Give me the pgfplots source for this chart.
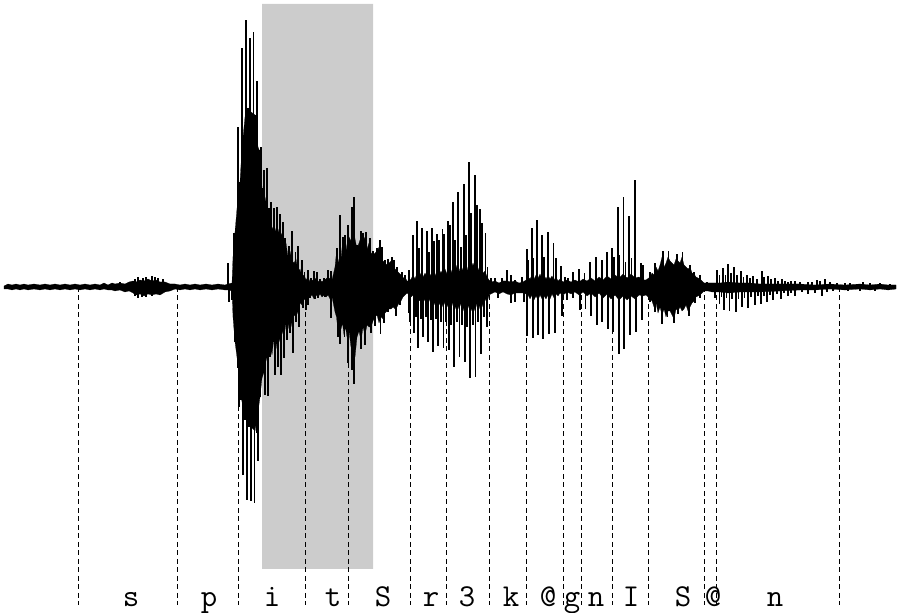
\documentclass[border=0pt]{standalone}
\usepackage{pgfplots}
\usepackage{pgfplotstable}
\pgfplotsset{compat=1.18}

% solid part of the waveform: x in image pixels, amplitude in pixels from the baseline
\pgfplotstableread{
x up down
4 1 -2
8 3 -2
12 2 -3
16 3 -2
20 2 -3
24 3 -2
28 2 -3
34 3 -2
40 2 -3
45 3 -2
50 2 -3
55 3 -2
60 2 -3
65 3 -2
70 2 -3
75 3 -2
80 2 -3
85 3 -2
90 2 -3
95 3 -2
100 2 -3
104 4 -2
108 2 -3
112 4 -3
115 3 -4
120 4 -3
125 3 -5
129 5 -4
133 6 -6
136 5 -8
140 7 -7
144 6 -9
148 8 -7
152 6 -8
156 7 -7
160 5 -8
165 5 -5
170 3 -4
175 3 -2
180 2 -3
185 3 -2
190 2 -3
195 3 -2
200 2 -3
206 3 -2
212 2 -3
218 3 -2
225 2 -3
228 3 -3
232 4 -4
233 30 -30
235 55 -55
238 90 -78
240 105 -100
242 139 -115
245 170 -125
248 179 -130
251 175 -140
255 172 -144
258 140 -125
260 135 -110
262 99 -91
264 80 -85
266 90 -70
268 70 -78
270 72 -60
272 58 -68
274 62 -50
276 55 -62
278 58 -48
280 50 -55
282 54 -44
284 40 -50
286 44 -36
288 30 -42
290 36 -30
292 26 -40
294 24 -28
296 28 -30
298 15 -24
300 18 -16
302 10 -18
304 12 -12
306 7 -14
308 10 -10
310 5 -10
312 7 -8
314 6 -12
316 9 -8
318 5 -10
320 7 -7
322 5 -10
324 7 -8
326 8 -10
328 10 -8
330 8 -12
332 7 -10
335 20 -25
336.5 35 -30
338 24 -44
339.5 30 -38
341 28 -42
342.5 44 -36
344 32 -48
345.5 46 -40
347 36 -50
349 50 -44
351 46 -60
353 70 -50
355 48 -70
357 38 -50
359 44 -44
361 50 -54
363 46 -40
365 50 -48
367 38 -38
369 44 -40
371 34 -40
373 32 -34
375 34 -30
377 36 -28
379 40 -36
381 32 -30
383 26 -32
385 24 -26
387 22 -24
389 24 -22
391 26 -22
393 24 -20
395 18 -22
397 16 -20
399 14 -16
401 12 -14
403 9 -10
405 10 -8
407 6 -6
409 6 -8
411 8 -10
413 12 -8
415 8 -14
417 14 -10
419 10 -14
421 14 -12
423 10 -16
425 14 -12
427 10 -16
429 15 -12
431 11 -17
433 15 -13
435 11 -18
437 16 -13
439 12 -18
441 16 -14
443 12 -20
445 18 -15
447 13 -20
449 20 -15
451 14 -22
453 20 -15
455 15 -22
457 22 -16
459 15 -22
461 22 -16
463 16 -24
465 22 -17
467 16 -24
469 24 -18
471 18 -24
473 24 -18
475 18 -24
477 22 -16
479 16 -22
481 20 -14
483 14 -20
485 16 -12
487 10 -16
489 7 -8
491 5 -7
495 6 -5
499 4 -7
503 6 -5
507 6 -7
511 5 -8
515 6 -6
519 4 -6
523 5 -6
526 7 -7
528 10 -8
530 8 -12
532 12 -8
534 8 -13
536 12 -9
538 9 -13
540 13 -8
542 8 -12
544 12 -9
546 8 -12
548 12 -8
550 8 -12
552 11 -7
554 7 -11
556 10 -7
558 6 -9
560 8 -6
563 5 -8
567 7 -5
571 5 -7
575 7 -5
579 5 -8
583 8 -5
587 6 -9
591 9 -6
595 6 -10
599 10 -6
603 7 -11
607 11 -7
611 8 -12
615 12 -8
619 9 -13
623 13 -9
627 9 -13
631 13 -9
635 9 -12
639 10 -8
643 7 -9
646 7 -8
650 10 -12
652 14 -14
654 12 -20
656 20 -16
658 16 -26
660 22 -20
662 30 -28
664 20 -22
666 24 -30
668 30 -24
670 26 -24
672 24 -28
674 22 -32
676 28 -22
678 26 -24
680 24 -20
682 30 -24
684 22 -22
686 20 -18
688 18 -24
690 20 -20
692 14 -16
694 13 -14
696 10 -10
698 9 -9
700 8 -8
702 6 -6
704 4 -4
708 4 -4
712 4 -5
720 4 -5
728 5 -6
740 4 -5
750 4 -5
760 3 -5
780 3 -4
800 3 -3
815 2 -3
830 3 -2
845 2 -3
860 3 -2
870 2 -3
880 3 -2
888 2 -3
896 2 -2
}\bodytable

% spikes above the baseline
\pgfplotstableread{
x y
120 5
135 8
138 10
143 9
146 10
152 11
155 10
158 9
163 8
228 24
234 54
235.7 59
238 160
239.7 105
242 239
245.7 267
247.7 179
249.7 249
253.3 255
255 172
257 206
259 137
260.7 140
262.3 99
264 117
267 119
269 79
270.7 85
273.7 79
276.7 80
280 73
283 65
285 49
289 41
292 56
295.3 35
298 41
301.7 27
304.3 15
307.7 17
311 9
314 16
316.7 15
320 8
324 9
328 17
330.7 16
336.7 39
340 72
342.7 50
345 52
347.7 62
351.7 80
353.7 90
356.7 42
360.7 56
363 54
365.7 55
370 49
373 36
376.7 39
379.7 47
381.7 40
385 27
388 28
392 30
394 27
397 20
401.7 15
405 12
409 17
412.7 52
417 66
419 39
422 59
427 56
429 35
432 59
434 46
437 53
439 47
442.3 58
444 53
447.7 66
450 62
453 85
455 47
458 95
460.7 40
463.7 103
466 52
469 125
471 74
474.7 112
476.7 82
479.7 78
482 64
485.3 54
487.3 20
491 9
495 9
501.7 9
507 17
511 12
515 7
521.7 10
526.7 38
528 27
531.7 59
533 29
536.7 67
541.7 52
543.7 30
548 55
553.3 44
555.7 29
561 21
565 10
568 9
572.7 15
579 18
584.3 14
590 25
595.7 30
601.7 27
606.7 35
612 39
614 30
617.7 80
619.3 32
623.3 90
625.3 25
629 71
631.3 29
634.7 107
640.7 24
642.7 22
650 15
655 24
662.7 36
668.3 36
676.7 33
682.3 35
690 22
694 15
700 12
706.7 5
716.7 17
719.5 12
723 19
725.5 12
728 23
731 14
734 20
737 12
740.7 16
743.5 10
746.7 12
750 9
753 11
757 8
761.7 16
764 10
768 11
771 8
775 9
778 6
781.7 8
785 6
788 5
791 6
795 6
800 5
808 5
812 5
816.7 7
820 6
825 8
830 5
836.7 4
845 4
850 4
863 5
870 4
880 4
890 3
}\uptable

% spikes below the baseline
\pgfplotstableread{
x y
135 -9
138 -11
142 -10
146 -10
152 -9
229 -15
232 -13
235 -55
237.7 -81
239 -120
241 -113
243 -188
245 -133
247 -213
249 -140
251 -214
254.3 -216
256.3 -146
258 -174
260 -110
263 -83
264.7 -108
268 -109
270 -70
272.7 -55
275 -88
277.7 -80
280.7 -88
283.7 -71
287 -53
289.7 -46
292.7 -66
296 -35
299 -40
302.7 -21
305.7 -23
308 -18
310 -11
315 -12
318 -11
325 -10
330.7 -31
338 -50
339.7 -57
344.3 -50
348 -76
351.7 -83
354 -97
357 -43
361 -62
365 -58
370.7 -46
374.7 -39
380.3 -47
384 -36
388 -25
396 -29
400 -18
409 -26
409.7 -35
414 -46
416 -30
418 -61
421 -32
423 -50
426 -30
428 -55
431 -33
433 -65
436 -32
438 -59
441 -35
443.3 -61
446 -35
448.7 -63
451 -38
454 -80
457 -35
459.3 -70
462 -38
464.7 -75
467 -40
470 -91
473 -38
475.3 -90
478 -35
481 -67
484 -30
486.7 -40
498 -11
511 -16
515 -15
524 -15
527 -49
532.7 -51
537.7 -48
543 -52
548.7 -47
555 -46
561.7 -29
566.7 -13
573 -11
580 -23
585.3 -22
591 -29
597 -38
601.7 -35
607.7 -42
612.7 -45
618.7 -67
624 -62
630 -48
635.7 -45
642 -33
650 -15
655 -25
661.7 -37
667.3 -30
674 -36
677.7 -27
689 -29
695 -16
700 -11
715 -11
719.3 -17
721.5 -10
724 -23
726.5 -11
729.3 -24
732 -12
735.7 -25
738.5 -12
741.7 -20
744.5 -11
747.7 -21
751 -10
755 -18
758 -9
761 -17
764 -9
766.7 -15
770 -8
773 -13
777 -7
780.7 -12
784 -6
788 -9
791 -6
795 -9
802 -5
808 -7
815 -6
821.7 -9
827 -5
833 -4
848 -4
860 -4
875 -4
}\downtable

\begin{document}
\begin{tikzpicture}
\begin{axis}[
    scale only axis,
    width=897bp, height=613bp,
    xmin=0, xmax=897,
    ymin=-326, ymax=287,
    axis lines=none,
    ticks=none,
    no markers
  ]
  % keeps the whole image area in the bounding box
  \addplot[draw=none] coordinates {(0,-326) (897,287)};

  % grey highlighted window
  \addplot[draw=none, fill=black!20] coordinates {(262,283) (373,283) (373,-282) (262,-282)} \closedcycle;

  % segment boundaries
  \addplot[ycomb, black, line width=0.8bp, dash pattern=on 5bp off 3.5bp] coordinates {
    (78,-318) (177,-318) (238,-318) (305.5,-318) (348.5,-318) (410,-318)
    (446,-318) (489.5,-318) (526,-318) (563,-318) (581,-318) (612,-318)
    (648.5,-318) (704,-318) (716,-318) (839,-318)};

  % waveform
  \addplot[black, fill=black, line width=0.2bp, line join=round] table[x=x, y=up] {\bodytable} \closedcycle;
  \addplot[black, fill=black, line width=0.2bp, line join=round] table[x=x, y=down] {\bodytable} \closedcycle;
  \addplot[ycomb, black, line width=1.6bp] table[x=x, y=y] {\uptable};
  \addplot[ycomb, black, line width=1.6bp] table[x=x, y=y] {\downtable};

  % phone labels
  \foreach \px/\lab in {131/s,209/p,272/i,333/t,383/S,431/r,467/3,511/k,548/@,572/g,596/n,631/I,683/S,713/@,775/n} {
    \edef\temp{\noexpand\node[anchor=base, inner sep=0pt, font=\noexpand\fontsize{32}{33}\noexpand\ttfamily] at (axis cs:\px,-319) {\lab};}
    \temp
  }
\end{axis}
\end{tikzpicture}
\end{document}
